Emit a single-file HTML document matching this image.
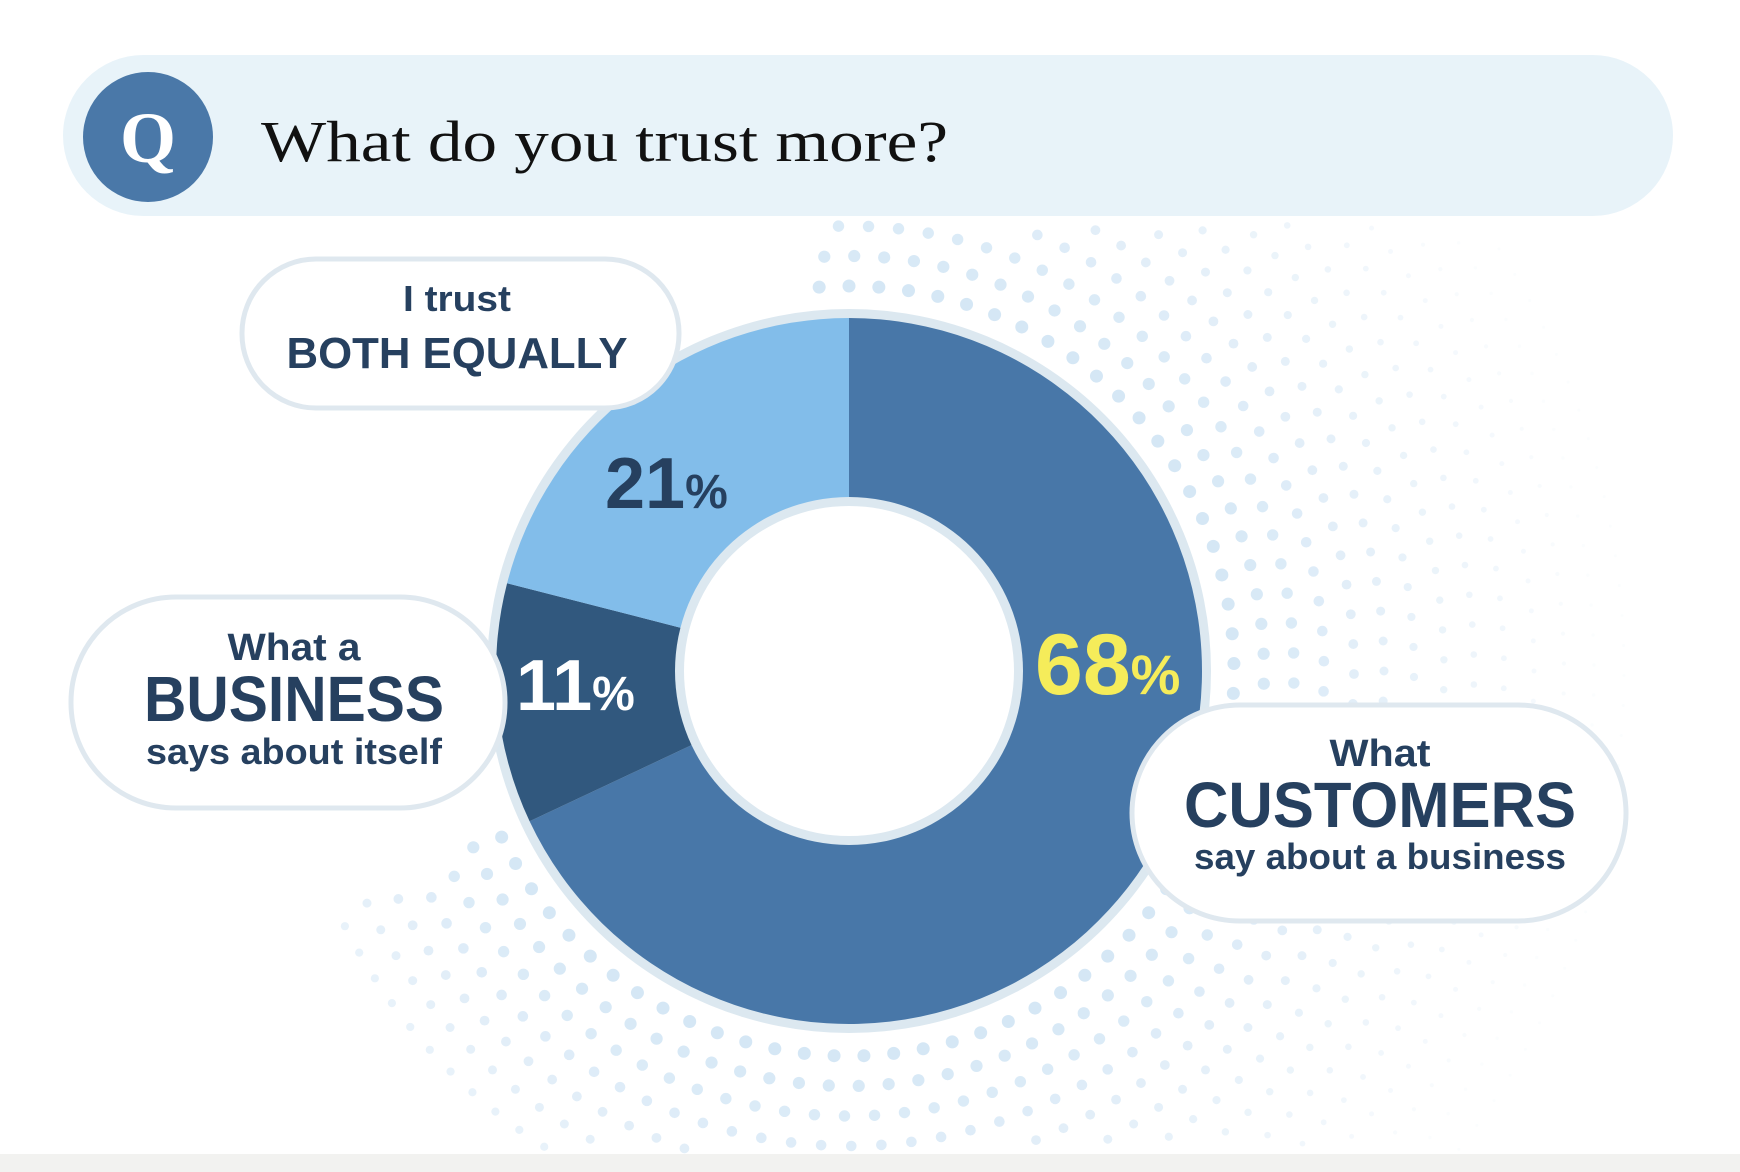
<!DOCTYPE html>
<html><head><meta charset="utf-8"><style>
html,body{margin:0;padding:0;background:#fff;}
svg{display:block}
.b{font-family:"Liberation Sans",sans-serif;font-weight:bold;fill:#26405f}
</style></head><body>
<svg id="s" width="1740" height="1172" viewBox="0 0 1740 1172" xmlns="http://www.w3.org/2000/svg">
<rect x="0" y="1154" width="1740" height="18" fill="#f2f2f0"/>
<g id="dots"></g>
<rect x="63" y="55" width="1610" height="161" rx="80.5" fill="#e8f3f9"/>
<circle cx="148" cy="137" r="65" fill="#4a78a8"/>
<text x="148" y="162" text-anchor="middle" font-family="Liberation Serif,serif" font-weight="bold" font-size="72" fill="#fff">Q</text>
<text x="261" y="161" font-family="Liberation Serif,serif" font-size="58" fill="#111" textLength="687" lengthAdjust="spacingAndGlyphs">What do you trust more?</text>
<circle cx="849" cy="671" r="362" fill="#dce8f0"/>
<g id="segs"></g>
<circle cx="849" cy="671" r="174" fill="#dce8f0"/>
<circle cx="849" cy="671" r="165" fill="#fff"/>
<text x="605" y="508" class="b" font-size="72" style="fill:#26405f">21<tspan font-size="48">%</tspan></text>
<text x="516" y="710" class="b" font-size="72" style="fill:#fff">11<tspan font-size="48">%</tspan></text>
<text x="1035" y="694" class="b" font-size="86" style="fill:#f5ec5a">68<tspan font-size="56">%</tspan></text>
<rect x="242" y="259" width="437" height="149" rx="74" fill="#fff" stroke="#dfe8ef" stroke-width="5"/>
<text x="457" y="311" class="b" font-size="36" text-anchor="middle" textLength="108" lengthAdjust="spacingAndGlyphs">I trust</text>
<text x="457" y="368" class="b" font-size="44" text-anchor="middle" textLength="341" lengthAdjust="spacingAndGlyphs">BOTH EQUALLY</text>
<rect x="71" y="597" width="434" height="211" rx="105" fill="#fff" stroke="#dfe8ef" stroke-width="5"/>
<text x="294" y="660" class="b" font-size="38" text-anchor="middle" textLength="133" lengthAdjust="spacingAndGlyphs">What a</text>
<text x="294" y="721" class="b" font-size="64" text-anchor="middle" textLength="300" lengthAdjust="spacingAndGlyphs">BUSINESS</text>
<text x="294" y="764" class="b" font-size="36" text-anchor="middle" textLength="296" lengthAdjust="spacingAndGlyphs">says about itself</text>
<rect x="1132" y="705" width="494" height="216" rx="108" fill="#fff" stroke="#dfe8ef" stroke-width="5"/>
<text x="1380" y="766" class="b" font-size="38" text-anchor="middle" textLength="101" lengthAdjust="spacingAndGlyphs">What</text>
<text x="1380" y="827" class="b" font-size="64" text-anchor="middle" textLength="392" lengthAdjust="spacingAndGlyphs">CUSTOMERS</text>
<text x="1380" y="869" class="b" font-size="36" text-anchor="middle" textLength="372" lengthAdjust="spacingAndGlyphs">say about a business</text>
</svg>
<script>
var cx=849,cy=671,R=353,r=170,NS="http://www.w3.org/2000/svg";
function P(a,rr){a=a*Math.PI/180;return [cx+rr*Math.sin(a),cy-rr*Math.cos(a)];}
function seg(a0,a1,c){var p1=P(a0,R),p2=P(a1,R),p3=P(a1,r),p4=P(a0,r),l=(a1-a0)>180?1:0;
var d="M"+p1+"A"+R+","+R+" 0 "+l+" 1 "+p2+"L"+p3+"A"+r+","+r+" 0 "+l+" 0 "+p4+"Z";
var e=document.createElementNS(NS,"path");e.setAttribute("d",d);e.setAttribute("fill",c);document.getElementById("segs").appendChild(e);}
seg(0,244.8,"#4877a8");seg(244.8,284.4,"#31587e");seg(284.4,360,"#82bdea");
var g=document.getElementById("dots");
for(var k=0;k<14;k++){var rr=385+k*30;var n=Math.round(rr*2*Math.PI/30);
for(var i=0;i<n;i++){var a=i*360/n+k*9;a=((a%360)+360)%360;
if(a>245&&a<355)continue;
if(a>=355&&k>7)continue;
if(a>185&&a<=245&&k>6)continue;
var p=P(a,rr);if(p[1]<225||p[1]>1150||p[0]>1720)continue;
var o=Math.max(0.05,0.6-k*0.045);var c=document.createElementNS(NS,"circle");
c.setAttribute("cx",p[0]);c.setAttribute("cy",p[1]);c.setAttribute("r",Math.max(1.5,6.5-k*0.4));
c.setAttribute("fill","#b9d7ef");c.setAttribute("opacity",o);g.appendChild(c);}}
</script>
</body></html>
